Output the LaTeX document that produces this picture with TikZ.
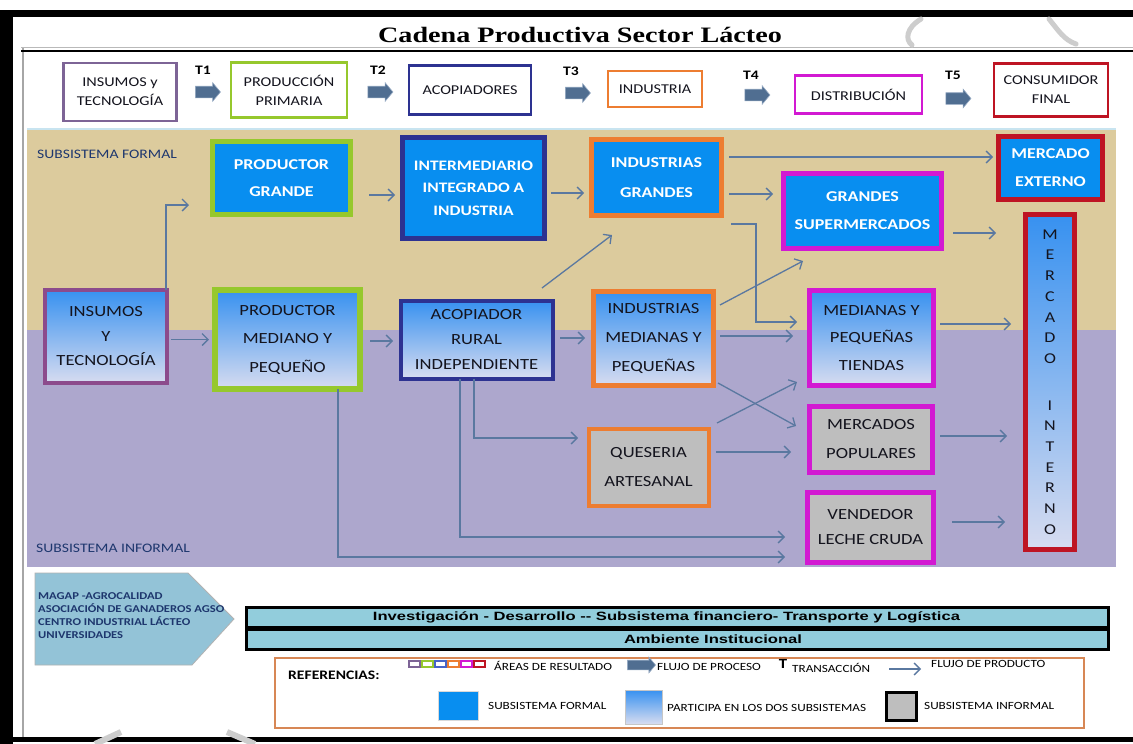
\documentclass[tikz,border=0pt]{standalone}
\usepackage{fontspec}
\usepackage{graphicx}
\setmainfont{Carlito}[FakeStretch=1.2]
\newfontfamily\titlefont{Liberation Serif}[FakeStretch=1.28]
\newfontfamily\barfont{Liberation Sans}
\usetikzlibrary{arrows.meta,shapes.arrows,calc}
\definecolor{cIns}{RGB}{125,100,150}
\definecolor{cInsB}{RGB}{140,75,140}
\definecolor{cProd}{RGB}{150,200,45}
\definecolor{cAco}{RGB}{45,50,145}
\definecolor{cLegB}{RGB}{70,100,200}
\definecolor{cInd}{RGB}{237,125,49}
\definecolor{cDis}{RGB}{210,25,210}
\definecolor{cCon}{RGB}{190,20,35}
\definecolor{fblue}{RGB}{8,142,240}
\definecolor{gtop}{RGB}{55,145,240}
\definecolor{gbot}{RGB}{215,220,240}
\definecolor{gfill}{RGB}{190,190,190}
\definecolor{txt}{RGB}{20,20,30}
\definecolor{flowc}{RGB}{90,120,160}
\definecolor{parf}{RGB}{80,110,145}
\definecolor{parb}{RGB}{150,170,195}
\definecolor{tanc}{RGB}{220,203,157}
\definecolor{lavc}{RGB}{173,167,205}
\definecolor{legc}{RGB}{215,135,85}
\definecolor{pentc}{RGB}{147,195,215}
\definecolor{barc}{RGB}{146,205,220}
\definecolor{subc}{RGB}{30,55,110}
\definecolor{wmark}{RGB}{205,205,205}
\definecolor{topline}{RGB}{200,228,240}
\begin{document}
\begin{tikzpicture}[x=1pt,y=-1pt,
  hbox/.style={draw, line width=2.4pt, fill=white, align=center, inner sep=0pt, outer sep=0pt, text=txt, font=\fontsize{13.5}{19}\selectfont},
  bluebox/.style={draw, line width=5pt, fill=fblue, align=center, inner sep=0pt, outer sep=0pt, text=white, font=\bfseries\fontsize{15}{27}\selectfont},
  gradbox/.style={draw, line width=4.5pt, top color=gtop, bottom color=gbot, align=center, inner sep=0pt, outer sep=0pt, text=txt, font=\fontsize{15.5}{27}\selectfont},
  graybox/.style={draw, line width=5pt, fill=gfill, align=center, inner sep=0pt, outer sep=0pt, text=txt, font=\fontsize{15.5}{29}\selectfont},
  flow/.style={draw=flowc, line width=1.3pt, -{Straight Barb[length=6pt,width=12pt]}},
  parrow/.style={single arrow, draw=parb, fill=parf, line width=0.6pt, minimum height=25pt, inner xsep=0pt, inner ysep=5.5pt, single arrow head extend=3.5pt, single arrow tip angle=100, outer sep=0pt},
  tlab/.style={font=\bfseries\fontsize{13}{13}\selectfont, inner sep=0pt},
  sublab/.style={font=\fontsize{13}{13}\selectfont, text=subc, inner sep=0pt, anchor=west},
  legtxt/.style={font=\fontsize{11}{11}\selectfont, text=black, inner sep=0pt, anchor=west},
  barbox/.style={draw=black, line width=3pt, fill=barc, inner sep=0pt, outer sep=0pt, minimum width=862pt, minimum height=20pt},
  bartxt/.style={font=\barfont\bfseries\fontsize{12}{12}\selectfont, inner sep=0pt}
]
\useasboundingbox (0,0) rectangle (1133,744);
\fill[white] (0,0) rectangle (1133,744);
% outer frame
\fill[black] (0,10) rectangle (1133,17);
\fill[black] (0,10) rectangle (13,744);
\fill[black] (0,737) rectangle (1133,742);
\draw[gray!70, line width=2pt] (22.5,47) -- (22.5,737);
\draw[gray!55, line width=1pt] (21,47.5) -- (1133,47.5);
\draw[black, line width=1.6pt] (21,51) -- (1133,51);
% title
\node[font=\titlefont\bfseries\fontsize{22}{22}\selectfont, inner sep=0pt] (title) at (580,35) {Cadena Productiva Sector Lácteo};
% header
\node[hbox, draw=cIns, minimum width=113pt, minimum height=58pt] (hIns) at (120,92) {INSUMOS y\\TECNOLOGÍA};
\node[hbox, draw=cProd, minimum width=116pt, minimum height=55pt] (hProd) at (289,90) {PRODUCCIÓN\\PRIMARIA};
\node[hbox, draw=cAco, minimum width=122pt, minimum height=49pt] (hAco) at (470,90) {ACOPIADORES};
\node[hbox, draw=cInd, minimum width=94pt, minimum height=36pt] (hInd) at (655,89) {INDUSTRIA};
\node[hbox, draw=cDis, minimum width=127pt, minimum height=38pt] (hDis) at (858.5,94.5) {DISTRIBUCIÓN};
\node[hbox, draw=cCon, minimum width=114pt, minimum height=53pt] (hCon) at (1051,90) {CONSUMIDOR\\FINAL};
\node[parrow] (p1) at (205.5,92) {};
\node[parrow] (p2) at (378,92) {};
\node[parrow] (p3) at (575.5,93) {};
\node[parrow] (p4) at (755,95) {};
\node[parrow] (p5) at (956,98.5) {};
\node[tlab] (t1) at (203,70.5) {T1};
\node[tlab] (t2) at (378,70.5) {T2};
\node[tlab] (t3) at (571,71.5) {T3};
\node[tlab] (t4) at (751,75) {T4};
\node[tlab] (t5) at (953,75) {T5};
% regions
\fill[tanc] (27,130) rectangle (1116,330);
\fill[lavc] (27,330) rectangle (1116,567);
\draw[topline, line width=1.5pt] (27,129) -- (1116,129);
\node[sublab] (lform) at (37,154) {SUBSISTEMA FORMAL};
\node[sublab] (linf) at (36,548) {SUBSISTEMA INFORMAL};
% body nodes
\node[gradbox, draw=cInsB, line width=4pt, minimum width=122pt, minimum height=93pt, font=\fontsize{15.5}{24.5}\selectfont] (bIns) at (106,336.5) {INSUMOS\\Y\\TECNOLOGÍA};
\node[bluebox, draw=cProd, minimum width=138pt, minimum height=73pt] (bPG) at (281.5,178) {PRODUCTOR\\GRANDE};
\node[gradbox, draw=cProd, line width=6pt, minimum width=145pt, minimum height=99pt, font=\fontsize{15.5}{28.5}\selectfont] (bPM) at (287.5,339.5) {PRODUCTOR\\MEDIANO Y\\PEQUEÑO};
\node[bluebox, draw=cAco, minimum width=142pt, minimum height=101pt, font=\bfseries\fontsize{14.5}{22.5}\selectfont] (bInt) at (473.5,188) {INTERMEDIARIO\\INTEGRADO A\\INDUSTRIA};
\node[gradbox, draw=cAco, line width=4pt, minimum width=152pt, minimum height=78pt, font=\fontsize{15.5}{25}\selectfont] (bAco) at (476.5,339.5) {ACOPIADOR\\RURAL\\INDEPENDIENTE};
\node[bluebox, draw=cInd, minimum width=130pt, minimum height=76pt, font=\bfseries\fontsize{15}{30}\selectfont] (bIG) at (656.5,177.5) {INDUSTRIAS\\GRANDES};
\node[gradbox, draw=cInd, line width=5pt, minimum width=120pt, minimum height=94pt, font=\fontsize{15.5}{29}\selectfont] (bIM) at (653.5,338.5) {INDUSTRIAS\\MEDIANAS Y\\PEQUEÑAS};
\node[graybox, draw=cInd, line width=4pt, minimum width=120pt, minimum height=77pt] (bQ) at (648.5,467) {QUESERIA\\ARTESANAL};
\node[bluebox, draw=cDis, minimum width=158pt, minimum height=75pt, font=\bfseries\fontsize{15}{28}\selectfont] (bGS) at (862.5,211) {GRANDES\\SUPERMERCADOS};
\node[gradbox, draw=cDis, line width=5pt, minimum width=124pt, minimum height=95pt, font=\fontsize{15.5}{27.5}\selectfont] (bMPT) at (871.5,338) {MEDIANAS Y\\PEQUEÑAS\\TIENDAS};
\node[graybox, draw=cDis, minimum width=123pt, minimum height=66pt] (bMP) at (871,439.5) {MERCADOS\\POPULARES};
\node[graybox, draw=cDis, minimum width=126pt, minimum height=70pt, font=\fontsize{15.5}{25}\selectfont] (bV) at (870.5,527.5) {VENDEDOR\\LECHE CRUDA};
\node[bluebox, draw=cCon, minimum width=104pt, minimum height=63pt, font=\bfseries\fontsize{15}{28}\selectfont] (bME) at (1050.5,168) {MERCADO\\EXTERNO};
\node[gradbox, draw=cCon, line width=5pt, minimum width=49pt, minimum height=335pt, font=\fontsize{15}{20.7}\selectfont] (bMI) at (1050,382) {M\\E\\R\\C\\A\\D\\O\\[26pt]I\\N\\T\\E\\R\\N\\O};
% connectors (product flow)
\draw[flow] ($(bIns.north east)+(-1,0)$) |- ($(bPG.west)+(-23.5,27)$);
\draw[flow] ($(bIns.east)+(4,3)$) -- ($(bPM.west)+(-6,0)$);
\draw[flow] ($(bPG.east)+(18.5,17)$) -- ($(bInt.west)+(-7.5,7)$);
\draw[flow] ($(bPM.east)+(10,1.5)$) -- ($(bAco.west)+(-7.5,1.5)$);
\draw[flow] ($(bInt.east)+(6.5,5)$) -- ($(bIG.west)+(-7.5,15.5)$);
\draw[flow] ($(bAco.east)+(7.5,-1.5)$) -- ($(bIM.west)+(-8.5,-0.5)$);
\draw[flow] ($(bAco.north east)+(-10.5,-12.5)$) -- ($(bIG.south)+(-44.5,19.5)$);
\draw[flow] ($(bIG.east)+(7.5,-20.5)$) -- ($(bME.west)+(-5.5,-11)$);
\draw[flow] ($(bIG.east)+(7.5,16.5)$) -- ($(bGS.west)+(-10.5,-17)$);
\draw[flow] ($(bIG.south east)+(9.5,8.5)$) -- ++(25,0) |- ($(bMPT.west)+(-12.5,-16)$);
\draw[flow] ($(bIM.north east)+(6.5,13.5)$) -- ($(bGS.south west)+(19.5,12.5)$);
\draw[flow] ($(bIM.east)+(6.5,-2.5)$) -- ($(bMPT.west)+(-16.5,-2)$);
\draw[flow] ($(bIM.south east)+(4.5,-2.5)$) -- ($(bMP.west)+(-13.5,-13.5)$);
\draw[flow] ($(bQ.north east)+(8.5,-5.5)$) -- ($(bMPT.south west)+(-12.5,-3.5)$);
\draw[flow] ($(bQ.east)+(7.5,-15)$) -- ($(bMP.west)+(-18.5,12.5)$);
\draw[flow] ($(bAco.south)+(-2.5,0)$) |- ($(bQ.west)+(-10.5,-29)$);
\draw[flow] ($(bAco.south)+(-16.5,0)$) |- ($(bV.west)+(-22.5,9.5)$);
\draw[flow] ($(bPM.south)+(50.5,0)$) |- ($(bV.west)+(-22.5,29.5)$);
\draw[flow] ($(bGS.east)+(11.5,22)$) -- ($(bMI.west)+(-29.5,-149)$);
\draw[flow] ($(bMPT.east)+(6.5,-14)$) -- ($(bMI.west)+(-14.5,-58)$);
\draw[flow] ($(bMP.east)+(7.5,-3.5)$) -- ($(bMI.west)+(-18.5,54)$);
\draw[flow] ($(bV.east)+(18.5,-5.5)$) -- ($(bMI.west)+(-20.5,140)$);
% institutions pentagon
\draw[fill=pentc, draw=gray!60, line width=0.8pt] (35,573) -- (188,573) -- (234,619) -- (192,665) -- (35,665) -- cycle;
\node[anchor=north west, align=left, inner sep=0pt, font=\bfseries\fontsize{10.5}{13.3}\selectfont, text=subc] (pent) at (38,592) {MAGAP -AGROCALIDAD\\ASOCIACIÓN DE GANADEROS AGSO\\CENTRO INDUSTRIAL LÁCTEO\\UNIVERSIDADES};
% bars
\node[barbox] (bar1) at (677.5,617) {};
\node[barbox] (bar2) at (677.5,639) {};
\node[bartxt] (bar1t) at (666.5,617) {\resizebox{587pt}{\height}{Investigación - Desarrollo -- Subsistema financiero- Transporte y Logística}};
\node[bartxt] (bar2t) at (713,639) {\resizebox{178pt}{\height}{Ambiente Institucional}};
% legend
\node[draw=legc, line width=1.2pt, minimum width=809pt, minimum height=70pt, inner sep=0pt] (leg) at (679.5,693) {};
\node[font=\bfseries\fontsize{13}{13}\selectfont, inner sep=0pt, anchor=west] (ref) at (288,675) {REFERENCIAS:};
\foreach \i/\c in {0/cIns,1/cProd,2/cLegB,3/cInd,4/cDis,5/cCon}
  \draw[draw=\c, line width=2pt, fill=white] (409+13*\i,661) rectangle ++(11,6);
\node[legtxt] (l1) at (494,666) {ÁREAS DE RESULTADO};
\node[parrow, minimum height=28pt, inner ysep=4.5pt, single arrow head extend=3pt] (lpa) at (639.5,665) {};
\node[legtxt] (l2) at (657,667) {FLUJO DE PROCESO};
\node[font=\bfseries\fontsize{14}{14}\selectfont, inner sep=0pt] (lT) at (783,664) {T};
\node[legtxt] (l3) at (792,668) {TRANSACCIÓN};
\coordinate (lfa) at (889,669);
\coordinate (lfb) at (921,669);
\draw[flow] (lfa) -- (lfb);
\node[legtxt] (l4) at (931,664) {FLUJO DE PRODUCTO};
\node[fill=fblue, draw=gray!30, line width=0.6pt, minimum width=40pt, minimum height=29pt, inner sep=0pt] (sqf) at (458,705.5) {};
\node[legtxt] (l5) at (488,706) {SUBSISTEMA FORMAL};
\node[top color=gtop, bottom color=gbot, draw=gray!45, line width=1pt, minimum width=37pt, minimum height=34pt, inner sep=0pt] (sqp) at (643.5,707) {};
\node[legtxt] (l6) at (667,708) {PARTICIPA EN LOS DOS SUBSISTEMAS};
\node[fill=gfill, draw=black, line width=3pt, minimum width=30pt, minimum height=28pt, inner sep=0pt] (sqi) at (901.5,706.5) {};
\node[legtxt] (l7) at (924,706) {SUBSISTEMA INFORMAL};
% watermark traces
\draw[wmark, line width=5pt, line cap=round] (921,19) .. controls (906,28) and (905,40) .. (912,45);
\draw[wmark, line width=5pt, line cap=round] (1049,19) .. controls (1058,30) and (1064,40) .. (1076,44);
\draw[wmark, line width=6pt] (95,744) -- (121,732);
\draw[wmark, line width=6pt] (227,732) -- (255,744);
\end{tikzpicture}
\end{document}
